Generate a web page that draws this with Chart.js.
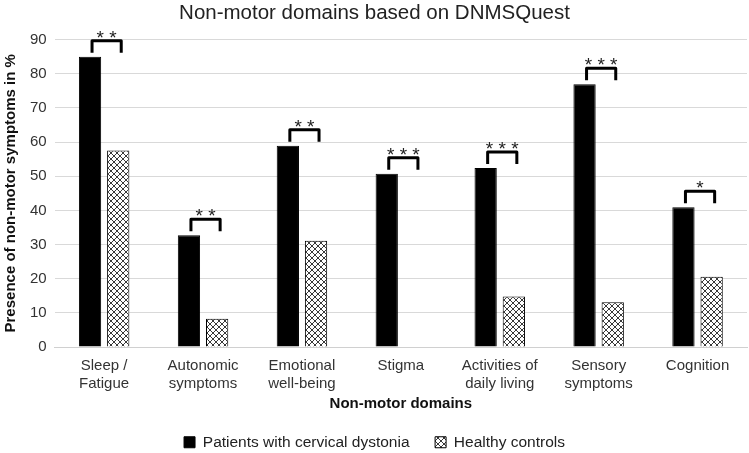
<!DOCTYPE html>
<html>
<head>
<meta charset="utf-8">
<script src="https://cdn.jsdelivr.net/npm/chart.js@4/dist/chart.umd.min.js"></script>
<style>
  html, body { margin: 0; padding: 0; background: #fff; }
  #wrap { width: 749px; height: 453px; }
</style>
</head>
<body>
<div id="wrap"><canvas id="chart"></canvas></div>
<script>
const categories = [['Sleep /', 'Fatigue'], ['Autonomic', 'symptoms'], ['Emotional', 'well-being'], 'Stigma', ['Activities of', 'daily living'], ['Sensory', 'symptoms'], 'Cognition'];
const patients = [85.0, 32.7, 58.9, 50.7, 52.4, 76.9, 40.9];
const controls = [57.5, 8.3, 31.1, 0, 14.8, 13.1, 20.6];
const significance = ['**', '**', '**', '***', '***', '***', '*'];

const FONT = '"Liberation Sans", Arial, sans-serif';

// crosshatch fill for the control bars
function makeHatch() {
    const c = document.createElement('canvas');
    c.width = 6; c.height = 6;
    const g = c.getContext('2d');
    g.fillStyle = '#fff';
    g.fillRect(0, 0, 6, 6);
    g.strokeStyle = '#222';
    g.lineWidth = 0.9;
    g.beginPath();
    g.moveTo(0, 0); g.lineTo(6, 6);
    g.moveTo(6, 0); g.lineTo(0, 6);
    g.moveTo(-3, 3); g.lineTo(3, -3);
    g.moveTo(3, 9); g.lineTo(9, 3);
    g.moveTo(-3, 3); g.lineTo(3, 9);
    g.moveTo(3, -3); g.lineTo(9, 3);
    g.stroke();
    return g.createPattern(c, 'repeat');
}
const hatch = makeHatch();

const bracketPlugin = {
    id: 'brackets',
    afterDatasetsDraw(chart) {
        const ctx = chart.ctx;
        const y = chart.scales.y;
        const a = chart.getDatasetMeta(0).data;
        const b = chart.getDatasetMeta(1).data;
        ctx.save();
        ctx.strokeStyle = '#000';
        ctx.lineWidth = 3;
        ctx.lineJoin = 'round';
        a.forEach((bar, i) => {
            const top = y.getPixelForValue(patients[i]) - 16;
            const x1 = bar.x + 2, x2 = b[i].x + 3;
            ctx.beginPath();
            ctx.moveTo(x1, top + 12);
            ctx.lineTo(x1, top);
            ctx.lineTo(x2, top);
            ctx.lineTo(x2, top + 12);
            ctx.stroke();
            ctx.fillStyle = '#222';
            ctx.font = '19px ' + FONT;
            ctx.textAlign = 'center';
            ctx.textBaseline = 'alphabetic';
            ctx.fillText(significance[i].split('').join(' '), (x1 + x2) / 2, top + 3);
        });
        ctx.restore();
    }
};

new Chart(document.getElementById('chart'), {
    type: 'bar',
    data: {
        labels: categories,
        datasets: [
            { label: 'Patients with cervical dystonia', data: patients, backgroundColor: '#000', borderColor: '#000', borderWidth: 1 },
            { label: 'Healthy controls', data: controls, backgroundColor: hatch, borderColor: '#000', borderWidth: 1 }
        ]
    },
    plugins: [bracketPlugin],
    options: {
        responsive: true,
        maintainAspectRatio: false,
        animation: false,
        categoryPercentage: 0.57,
        barPercentage: 0.79,
        layout: { padding: { top: 0, right: 2, left: 2, bottom: -7 } },
        plugins: {
            title: {
                display: true,
                text: 'Non-motor domains based on DNMSQuest',
                color: '#222',
                font: { family: FONT, size: 20.5, weight: 'normal' },
                padding: { top: 1, bottom: 14 }
            },
            legend: {
                position: 'bottom',
                labels: {
                    color: '#222',
                    font: { family: FONT, size: 15.5 },
                    boxWidth: 11,
                    boxHeight: 11,
                    padding: 4,
                    generateLabels(chart) {
                        const items = Chart.defaults.plugins.legend.labels.generateLabels(chart);
                        items[0].text += '\u00A0\u00A0\u00A0\u00A0\u00A0';
                        return items;
                    }
                }
            },
            tooltip: { enabled: false }
        },
        scales: {
            x: {
                grid: { display: false },
                border: { color: '#d0d0d0', width: 1 },
                ticks: { color: '#333', font: { family: FONT, size: 15, lineHeight: 1.2 }, maxRotation: 0, padding: 2 },
                title: {
                    display: true,
                    text: 'Non-motor domains',
                    color: '#111',
                    font: { family: FONT, size: 15, weight: 'bold', lineHeight: 1.1 },
                    padding: { top: 1, bottom: 18 }
                }
            },
            y: {
                min: 0,
                max: 90,
                ticks: { stepSize: 10, color: '#333', font: { family: FONT, size: 15 }, padding: 8 },
                grid: { color: '#d9d9d9', drawTicks: false },
                border: { display: false },
                title: {
                    display: true,
                    text: 'Presence of non-motor symptoms in %',
                    color: '#111',
                    font: { family: FONT, size: 15, weight: 'bold' },
                    padding: { top: 0, bottom: 2 }
                }
            }
        }
    }
});
</script>
</body>
</html>
